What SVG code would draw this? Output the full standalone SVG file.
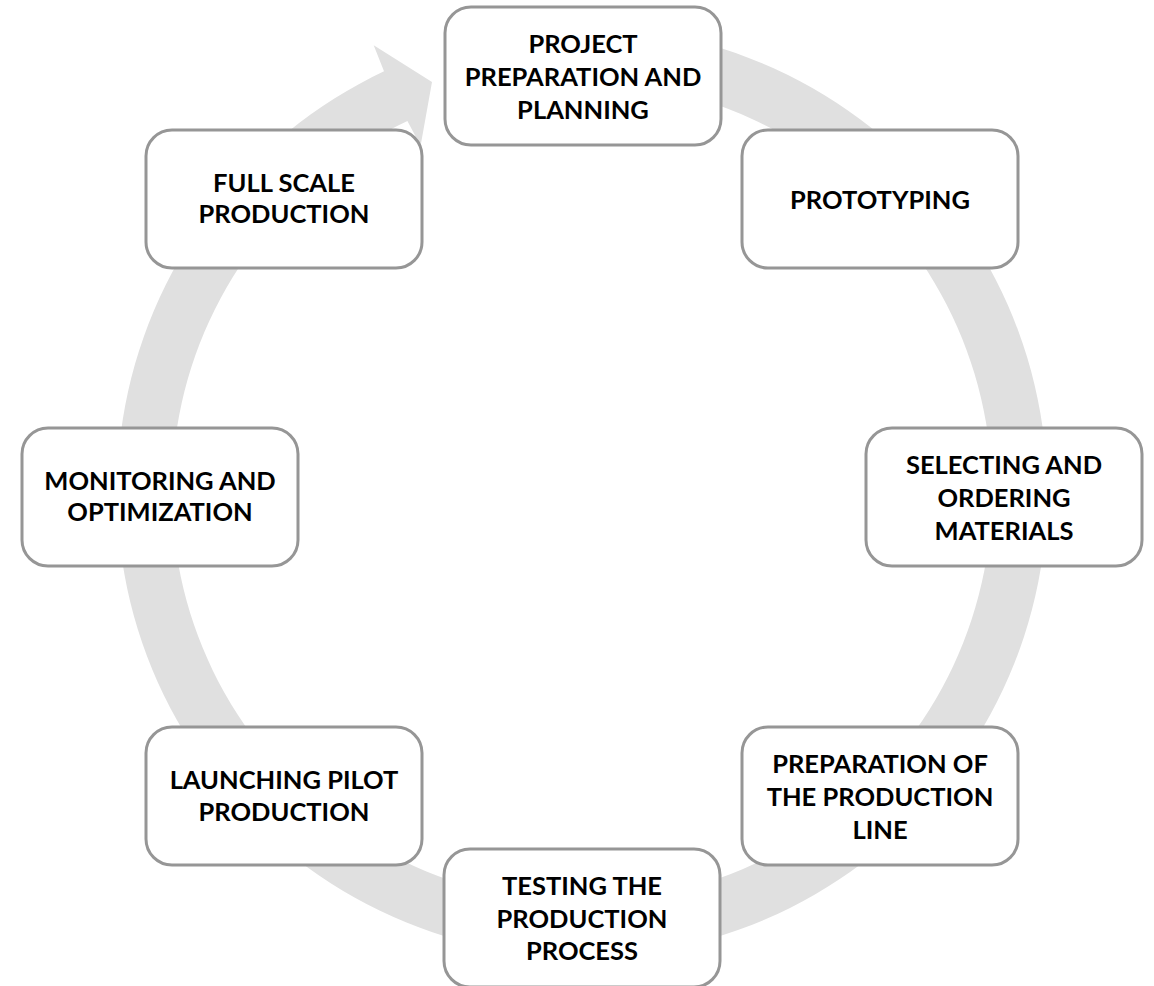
<svg xmlns="http://www.w3.org/2000/svg" width="1154" height="986" viewBox="0 0 1154 986">
  <style>
    .ring { fill: #e0e0e0; stroke: none; }
    .box { fill: #ffffff; stroke: #969696; stroke-width: 3; }
    .label { font-family: Lato, "Open Sans", "Liberation Sans", sans-serif; font-weight: 700; font-size: 25.5px; fill: #000000; text-anchor: middle; }
  </style>
  <rect x="0" y="0" width="1154" height="986" fill="#ffffff"/>

  <!-- circular arrow running clockwise, head at upper left -->
  <g id="connectors">
    <path class="ring" d="M 582 27 A 465 465 0 1 1 384.0 71.3 L 373.7 45.2 L 432 82 L 420.6 145.8 L 407.4 121.0 A 410 410 0 1 0 582 82 Z"/>
  </g>

  <g id="node-planning">
    <rect class="box" x="445" y="7" width="276" height="138" rx="26"/>
    <text class="label" x="583" y="53">PROJECT</text>
    <text class="label" x="583" y="86">PREPARATION AND</text>
    <text class="label" x="583" y="119">PLANNING</text>
  </g>

  <g id="node-prototyping">
    <rect class="box" x="742" y="130" width="276" height="138" rx="26"/>
    <text class="label" x="880" y="208.5">PROTOTYPING</text>
  </g>

  <g id="node-materials">
    <rect class="box" x="866" y="428" width="276" height="138" rx="26"/>
    <text class="label" x="1004" y="474">SELECTING AND</text>
    <text class="label" x="1004" y="507">ORDERING</text>
    <text class="label" x="1004" y="539.5">MATERIALS</text>
  </g>

  <g id="node-line">
    <rect class="box" x="742" y="727" width="276" height="138" rx="26"/>
    <text class="label" x="880" y="773">PREPARATION OF</text>
    <text class="label" x="880" y="806">THE PRODUCTION</text>
    <text class="label" x="880" y="838.5">LINE</text>
  </g>

  <g id="node-testing">
    <rect class="box" x="444" y="849" width="276" height="138" rx="26"/>
    <text class="label" x="582" y="895">TESTING THE</text>
    <text class="label" x="582" y="928">PRODUCTION</text>
    <text class="label" x="582" y="960">PROCESS</text>
  </g>

  <g id="node-pilot">
    <rect class="box" x="146" y="727" width="276" height="138" rx="26"/>
    <text class="label" x="284" y="788.5">LAUNCHING PILOT</text>
    <text class="label" x="284" y="820.5">PRODUCTION</text>
  </g>

  <g id="node-monitoring">
    <rect class="box" x="22" y="428" width="276" height="138" rx="26"/>
    <text class="label" x="160" y="490">MONITORING AND</text>
    <text class="label" x="160" y="521">OPTIMIZATION</text>
  </g>

  <g id="node-fullscale">
    <rect class="box" x="146" y="130" width="276" height="138" rx="26"/>
    <text class="label" x="284" y="191.5">FULL SCALE</text>
    <text class="label" x="284" y="223">PRODUCTION</text>
  </g>
</svg>
